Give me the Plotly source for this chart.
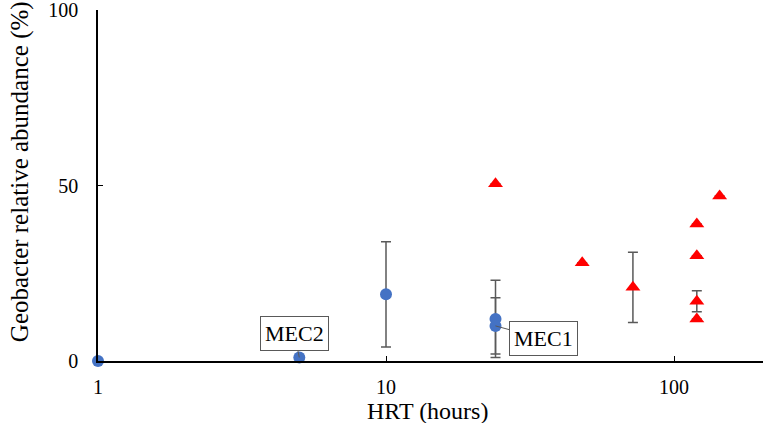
import plotly.graph_objects as go

# MEC data (blue circles)
mec_hrt = [1, 5, 10, 24, 24]
mec_abund = [0, 1, 19, 12, 10]
mec_err = [0, 0, 15, 11, 8]

# other reactors (red triangles)
mfc_hrt = [24, 48, 72, 120, 120, 120, 120, 144]
mfc_abund = [50.5, 28, 21, 39, 30, 17, 12, 47]
mfc_err = [0, 0, 10, 0, 0, 3, 0, 0]

serif = "Liberation Serif, Times New Roman, serif"

fig = go.Figure()

fig.add_trace(go.Scatter(
    x=mec_hrt, y=mec_abund, mode="markers",
    marker=dict(color="#4472C4", size=12, symbol="circle"),
    error_y=dict(type="data", array=mec_err, color="#595959", thickness=1.5, width=5,
                 visible=True),
    cliponaxis=False, showlegend=False,
))

fig.add_trace(go.Scatter(
    x=mfc_hrt, y=mfc_abund, mode="markers",
    marker=dict(color="#FF0000", size=13, symbol="triangle-up"),
    error_y=dict(type="data", array=mfc_err, color="#595959", thickness=1.5, width=5,
                 visible=True),
    cliponaxis=False, showlegend=False,
))

# callout labels
fig.add_annotation(x=0.699, y=1, text="MEC2", showarrow=True, arrowhead=0,
                   arrowcolor="#595959", arrowwidth=1, ax=-5, ay=-24,
                   bgcolor="white", bordercolor="#595959", borderwidth=1, borderpad=4,
                   font=dict(family=serif, size=22, color="black"))
fig.add_annotation(x=1.380, y=10, text="MEC1", showarrow=True, arrowhead=0,
                   arrowcolor="#595959", arrowwidth=1, ax=48, ay=13,
                   bgcolor="white", bordercolor="#595959", borderwidth=1, borderpad=4,
                   font=dict(family=serif, size=22, color="black"))

# axis titles placed by hand
fig.add_annotation(xref="paper", yref="paper", x=0, y=0.538, xshift=-78,
                   text="Geobacter relative abundance (%)", textangle=-90,
                   showarrow=False, xanchor="center", yanchor="middle",
                   font=dict(family=serif, size=25, color="black"))
fig.add_annotation(xref="paper", yref="paper", x=0.495, y=0, yshift=-50,
                   text="HRT (hours)", showarrow=False,
                   xanchor="center", yanchor="middle",
                   font=dict(family=serif, size=24, color="black"))

fig.update_xaxes(
    type="log", range=[0, 2.309], automargin=False,
    tickvals=[1, 10, 100], ticktext=["1", "10", "100"],
    ticks="inside", ticklen=5, tickcolor="black", ticklabelstandoff=7,
    showline=True, linecolor="black", linewidth=1.5,
    showgrid=False, zeroline=False,
    tickfont=dict(family=serif, size=20, color="black"),
)
fig.update_yaxes(
    range=[0, 100], tickvals=[0, 50, 100], automargin=False,
    ticks="inside", ticklen=5, tickcolor="black", ticklabelstandoff=14,
    ticklabeloverflow="allow",
    showline=True, linecolor="black", linewidth=1.5,
    showgrid=False, zeroline=False,
    tickfont=dict(family=serif, size=20, color="black"),
)

fig.update_layout(
    width=765, height=423,
    margin=dict(l=98, r=2, t=10, b=62),
    plot_bgcolor="white", paper_bgcolor="white",
)

fig.write_html("out.html", config={"displayModeBar": False},
               post_script="document.body.style.margin='0';document.body.style.overflow='hidden';")
